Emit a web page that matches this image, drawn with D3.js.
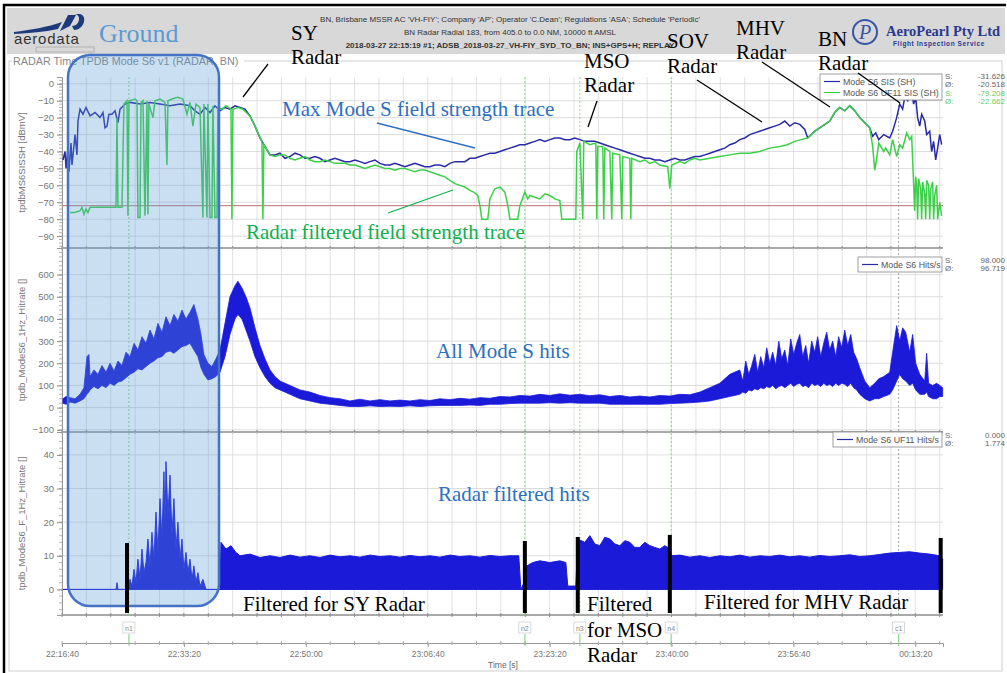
<!DOCTYPE html>
<html>
<head>
<meta charset="utf-8">
<script src="https://cdn.jsdelivr.net/npm/d3@7"></script>
<style>
  body { margin: 0; background: #fff; }
  svg { display: block; font-family: 'Liberation Sans', Arial, sans-serif; }
</style>
</head>
<body>
<div id="app"></div>
<script>
'use strict'

const W = 1007
const H = 673
const startSec = 80200 // 22:16:40, time values below are seconds after this

// top panel, [elapsed s, dBmV]
const sisMax = [[8,-45],[25,-40],[33,-50],[49,-38],[57,-52],[74,-35],[82,-48],[107,-30],[123,-42],[131,-22],[148,-15],[172,-18],[197,-14],[230,-19],[271,-17],[312,-20],[336,-17],[353,-26],[369,-25],[385,-18],[410,-18],[435,-16],[459,-23],[476,-15],[517,-12],[558,-11],[640,-12],[722,-11],[804,-12],[886,-13],[968,-12],[1050,-13],[1091,-16],[1132,-18],[1173,-14],[1214,-17],[1255,-13],[1296,-16],[1337,-14],[1378,-15],[1419,-13],[1460,-14],[1501,-15],[1542,-19],[1583,-25],[1624,-32],[1665,-37],[1706,-42],[1747,-42],[1788,-41],[1829,-44],[1870,-43],[1911,-41],[1952,-42],[1993,-44],[2034,-44],[2075,-43],[2116,-44],[2157,-46],[2198,-45],[2239,-44],[2280,-45],[2321,-46],[2362,-46],[2403,-45],[2444,-46],[2485,-47],[2526,-46],[2567,-45],[2608,-47],[2649,-48],[2690,-48],[2731,-47],[2772,-48],[2813,-49],[2854,-48],[2895,-47],[2936,-48],[2977,-49],[3018,-49],[3059,-48],[3100,-48],[3141,-49],[3182,-47],[3223,-46],[3264,-46],[3305,-46],[3346,-44],[3387,-44],[3428,-43],[3469,-42],[3510,-41],[3551,-41],[3592,-40],[3633,-39],[3674,-38],[3715,-37],[3756,-36],[3797,-36],[3838,-35],[3879,-34],[3920,-33],[3961,-34],[4002,-33],[4043,-32],[4084,-32],[4125,-33],[4166,-33],[4207,-32],[4248,-33],[4289,-34],[4330,-34],[4371,-34],[4412,-35],[4453,-36],[4494,-37],[4535,-38],[4576,-39],[4617,-40],[4658,-41],[4699,-42],[4740,-43],[4781,-44],[4822,-44],[4863,-45],[4904,-45],[4945,-46],[4986,-45],[5027,-44],[5068,-45],[5109,-45],[5150,-44],[5191,-43],[5232,-43],[5273,-42],[5314,-41],[5355,-40],[5396,-39],[5437,-38],[5478,-36],[5519,-35],[5560,-33],[5601,-32],[5642,-30],[5683,-29],[5724,-28],[5765,-27],[5806,-26],[5847,-25],[5888,-24],[5929,-22],[5970,-25],[6011,-23],[6052,-24],[6093,-27],[6117,-32],[6175,-28],[6216,-26],[6298,-22],[6339,-17],[6380,-14],[6421,-16],[6462,-13],[6503,-16],[6544,-20],[6585,-23],[6626,-26],[6650,-31],[6675,-29],[6700,-33],[6741,-30],[6790,-32],[6814,-28],[6847,-20],[6872,-12],[6896,-15],[6913,-8],[6937,-10],[6954,-6],[6970,-5],[6986,-12],[7003,-8],[7019,-20],[7036,-25],[7052,-18],[7077,-22],[7093,-30],[7118,-28],[7134,-40],[7150,-34],[7167,-45],[7183,-38],[7200,-30],[7216,-36]]

const sisUF11 = [[66,-76],[107,-76],[148,-75],[164,-73],[180,-77],[197,-74],[213,-76],[230,-73],[271,-73],[312,-73],[394,-73],[443,-73],[451,-20],[459,-73],[476,-73],[492,-73],[508,-12],[533,-10],[541,-78],[549,-10],[599,-9],[615,-10],[623,-79],[640,-79],[648,-11],[664,-10],[681,-78],[697,-10],[705,-77],[713,-12],[746,-20],[763,-10],[804,-9],[845,-11],[861,-48],[869,-10],[902,-9],[951,-8],[992,-9],[1025,-18],[1050,-11],[1074,-25],[1099,-12],[1132,-14],[1156,-79],[1164,-12],[1189,-79],[1197,-12],[1214,-79],[1230,-79],[1238,-13],[1255,-79],[1271,-79],[1279,-14],[1312,-15],[1345,-13],[1386,-15],[1394,-80],[1402,-15],[1443,-14],[1484,-15],[1542,-19],[1583,-25],[1640,-34],[1648,-80],[1656,-36],[1706,-42],[1747,-43],[1788,-42],[1829,-42],[1870,-44],[1911,-45],[1952,-44],[1993,-43],[2034,-45],[2075,-46],[2116,-46],[2157,-45],[2198,-46],[2239,-47],[2280,-47],[2321,-47],[2362,-48],[2403,-48],[2444,-49],[2485,-50],[2526,-49],[2567,-48],[2608,-49],[2649,-50],[2690,-50],[2731,-51],[2772,-50],[2813,-50],[2854,-51],[2895,-52],[2936,-51],[2977,-51],[3018,-52],[3059,-53],[3100,-54],[3141,-55],[3182,-57],[3223,-59],[3264,-60],[3305,-61],[3346,-63],[3378,-64],[3411,-66],[3428,-72],[3444,-80],[3493,-80],[3510,-68],[3551,-62],[3592,-61],[3633,-64],[3657,-72],[3674,-80],[3739,-80],[3756,-72],[3797,-64],[3821,-68],[3838,-66],[3879,-67],[3920,-68],[3961,-65],[4002,-66],[4043,-68],[4084,-69],[4100,-80],[4215,-80],[4223,-40],[4248,-35],[4272,-80],[4280,-34],[4330,-36],[4379,-35],[4387,-80],[4395,-37],[4436,-37],[4444,-80],[4453,-38],[4494,-40],[4510,-80],[4518,-41],[4576,-42],[4592,-80],[4600,-43],[4658,-44],[4666,-80],[4674,-44],[4740,-46],[4781,-45],[4822,-47],[4863,-46],[4904,-48],[4969,-49],[4986,-62],[5002,-48],[5068,-46],[5109,-47],[5150,-45],[5191,-44],[5232,-45],[5314,-44],[5396,-43],[5478,-42],[5560,-41],[5642,-41],[5724,-40],[5806,-38],[5888,-37],[5950,-36],[6011,-34],[6064,-33],[6117,-32],[6175,-28],[6216,-26],[6298,-22],[6339,-17],[6380,-14],[6421,-16],[6462,-13],[6503,-16],[6544,-20],[6585,-23],[6626,-26],[6650,-37],[6667,-51],[6683,-44],[6700,-35],[6741,-40],[6757,-38],[6790,-42],[6814,-33],[6847,-43],[6872,-36],[6896,-38],[6929,-29],[6954,-33],[6970,-31],[6978,-45],[6995,-75],[7003,-55],[7011,-59],[7019,-80],[7027,-56],[7044,-62],[7052,-80],[7060,-58],[7077,-65],[7085,-80],[7093,-57],[7109,-60],[7118,-80],[7126,-62],[7142,-58],[7150,-80],[7159,-66],[7175,-60],[7183,-80],[7200,-70],[7216,-78]]

// middle panel, [elapsed s, low, high] hits/s
const hitsAll = [[8,20,40],[33,15,50],[66,25,45],[107,20,40],[148,30,60],[180,40,90],[205,60,230],[221,70,240],[230,80,140],[262,95,170],[295,85,150],[328,100,190],[361,90,160],[394,110,200],[427,100,165],[459,115,210],[492,120,190],[525,135,250],[558,150,230],[591,160,290],[623,175,260],[656,170,320],[689,185,290],[722,200,350],[754,210,310],[787,225,380],[820,230,340],[853,250,410],[886,255,370],[918,245,420],[951,260,390],[984,275,440],[1017,280,400],[1050,290,430],[1082,260,465],[1115,230,400],[1140,180,330],[1164,150,240],[1197,125,200],[1230,130,185],[1263,140,220],[1296,160,260],[1337,230,380],[1378,330,500],[1419,400,550],[1443,420,570],[1476,400,540],[1509,350,500],[1542,300,450],[1583,230,360],[1624,180,280],[1665,140,220],[1706,110,170],[1747,90,140],[1788,80,120],[1870,60,100],[1952,40,80],[2034,30,70],[2116,20,55],[2198,15,45],[2280,10,40],[2362,5,30],[2444,5,38],[2526,8,30],[2608,5,36],[2690,6,30],[2772,5,34],[2854,8,30],[2936,5,36],[3018,8,32],[3100,10,40],[3182,10,36],[3264,10,42],[3346,12,38],[3428,10,45],[3510,15,42],[3592,15,50],[3674,18,48],[3756,20,55],[3838,20,52],[3920,20,60],[4002,22,55],[4084,20,62],[4166,22,56],[4248,20,60],[4330,20,54],[4412,20,58],[4494,15,50],[4576,15,55],[4658,15,48],[4740,15,52],[4822,15,48],[4904,15,55],[4986,18,52],[5068,20,60],[5150,22,58],[5232,25,70],[5314,30,90],[5396,40,110],[5478,50,150],[5560,60,170],[5585,70,120],[5609,65,210],[5634,80,150],[5658,75,190],[5683,85,240],[5707,80,160],[5732,90,230],[5757,85,180],[5781,95,270],[5806,90,200],[5830,100,250],[5855,85,190],[5880,95,300],[5904,100,220],[5929,90,260],[5953,100,190],[5978,110,310],[6002,95,240],[6027,105,290],[6052,110,330],[6076,95,230],[6101,100,280],[6125,90,200],[6150,110,300],[6175,100,250],[6199,105,320],[6224,95,230],[6248,110,290],[6273,100,340],[6298,105,260],[6322,95,300],[6347,110,230],[6371,100,320],[6396,110,270],[6421,105,350],[6445,95,280],[6470,110,330],[6494,90,250],[6519,80,220],[6544,60,180],[6585,40,120],[6626,30,90],[6667,40,110],[6700,40,130],[6741,50,140],[6790,60,160],[6814,80,250],[6847,120,370],[6872,150,300],[6896,130,360],[6921,120,340],[6954,100,250],[6978,110,330],[7003,80,200],[7036,60,150],[7077,60,120],[7093,70,245],[7109,50,110],[7142,40,100],[7175,40,110],[7200,50,100],[7224,50,90]]

// bottom panel, [elapsed s, hits/s] (filtered, floor 0)
const hitsUF11 = [[8,0],[443,0],[451,2],[459,0],[533,0],[558,3],[574,1],[591,6],[607,2],[623,9],[640,3],[656,12],[672,5],[689,8],[705,15],[722,7],[738,17],[754,9],[771,23],[787,11],[804,27],[820,15],[836,35],[845,20],[853,38],[869,22],[886,34],[902,16],[918,27],[935,12],[951,20],[968,9],[984,15],[1000,6],[1017,11],[1033,5],[1050,9],[1066,3],[1082,7],[1099,2],[1115,5],[1132,1],[1156,3],[1181,0],[1296,0],[1304,14],[1345,12],[1386,13],[1427,11],[1460,10],[1542,10.5],[1624,9.5],[1706,10],[1788,9.5],[1870,10.2],[1952,9.6],[2034,10],[2116,9.5],[2198,10.2],[2280,9.7],[2362,10],[2444,9.6],[2526,10.2],[2608,9.8],[2690,10],[2772,9.6],[2854,10.1],[2936,9.7],[3018,10],[3100,9.6],[3182,10.2],[3264,9.8],[3346,10],[3428,9.6],[3510,10.1],[3592,9.8],[3674,10],[3747,10],[3764,0],[3789,2],[3813,7],[3862,8],[3920,8.5],[4002,8],[4084,8.5],[4133,8],[4149,1],[4215,1],[4231,15],[4289,14],[4330,16],[4371,13.5],[4412,13],[4453,15.5],[4494,15],[4535,13.5],[4576,13],[4617,14.5],[4658,14],[4699,12.5],[4740,12.5],[4781,14],[4822,13],[4863,12.5],[4904,12],[4945,13],[4969,12.5],[4986,10],[5068,10.2],[5150,9.6],[5232,10],[5314,9.5],[5396,10],[5478,9.7],[5560,10.2],[5642,9.6],[5724,10],[5806,9.8],[5888,10.2],[5970,9.7],[6052,10],[6134,9.6],[6216,10.1],[6298,9.8],[6380,10],[6462,10.3],[6544,9.8],[6626,10],[6708,10.4],[6790,10.8],[6872,11],[6954,11.2],[7036,10.8],[7118,10.5],[7200,10],[7224,9]]

const markerNames = ['n1', 'n2', 'n3', 'n4', 'c1']
const markerTimes = [549, 3797, 4248, 4997, 6863]
const filterBarTimes = [533, 3797, 4231, 4986, 7208]
const filterBarTops = [13.8, 14.4, 15.6, 16.2, 15.3]
const thresholdDb = -72

const headerLines = [
  "BN, Brisbane MSSR AC 'VH-FIY'; Company 'AP'; Operator 'C.Dean'; Regulations 'ASA'; Schedule 'Periodic'",
  'BN Radar Radial 183, from 405.0 to 0.0 NM, 10000 ft AMSL',
  '2018-03-27 22:15:19  #1; ADSB_2018-03-27_VH-FIY_SYD_TO_BN; INS+GPS+H; REPLAY'
]

const blueTrace = '#2a2aa6'
const blueHits = '#1a1ad8'
const greenTrace = '#3ecf4a'

const svg = d3.select('#app').append('svg')
  .attr('width', W)
  .attr('height', H)

svg.append('rect').attr('width', W).attr('height', H).attr('fill', '#fff')

// header band
svg.append('rect')
  .attr('x', 7).attr('y', 8).attr('width', 998).attr('height', 46)
  .attr('fill', '#d8d8d8')

svg.append('path')
  .attr('d', `M4,${H} V5 H${W - 1}`)
  .attr('fill', 'none')
  .attr('stroke', '#000')
  .attr('stroke-width', 2.5)

headerLines.forEach((t, i) => {
  svg.append('text')
    .attr('x', 510).attr('y', 22 + i * 13)
    .attr('text-anchor', 'middle')
    .style('font-size', '8px')
    .style('font-weight', i === 2 ? 'bold' : 'normal')
    .style('fill', '#333')
    .text(t)
})

// aerodata logo
svg.append('path')
  .attr('d', 'M14,32 C30,30 48,27 62,22 L58,29 C44,32 30,33 14,34 Z')
  .attr('fill', '#1d3a7a')
svg.append('path')
  .attr('d', 'M60,31 L68,15 L76,15 L70,26 Z M72,26 C80,26 82,14 74,14 L80,14 C88,16 84,30 74,30 Z')
  .attr('fill', '#1d3a7a')
svg.append('text')
  .attr('x', 14).attr('y', 44)
  .style('font-size', '15px').style('fill', '#333').style('letter-spacing', '0.8px')
  .text('aerodata')
svg.append('rect')
  .attr('x', 36).attr('y', 47).attr('width', 58).attr('height', 5)
  .attr('fill', 'none').attr('stroke', '#999').attr('stroke-width', 0.6)

// AeroPearl logo
svg.append('circle')
  .attr('cx', 865).attr('cy', 32).attr('r', 12)
  .attr('fill', 'none').attr('stroke', '#3a55a8').attr('stroke-width', 2)
svg.append('text')
  .attr('x', 865).attr('y', 39).attr('text-anchor', 'middle')
  .style('font-family', "'Liberation Serif', serif").style('font-style', 'italic')
  .style('font-size', '20px').style('fill', '#3a55a8')
  .text('P')
svg.append('text')
  .attr('x', 886).attr('y', 36)
  .style('font-family', "'Liberation Serif', serif").style('font-weight', 'bold')
  .style('font-size', '14.5px').style('fill', '#2b3990')
  .text('AeroPearl Pty Ltd')
svg.append('text')
  .attr('x', 893).attr('y', 46)
  .style('font-weight', 'bold').style('font-size', '6.5px').style('fill', '#2b3990')
  .style('letter-spacing', '0.6px')
  .text('Flight Inspection Service')

// group box
svg.append('rect')
  .attr('x', 9).attr('y', 61).attr('width', 993).attr('height', 610)
  .attr('fill', 'none').attr('stroke', '#cfcfcf')
svg.append('rect')
  .attr('x', 12).attr('y', 55).attr('width', 232).attr('height', 12).attr('fill', '#fff')
svg.append('text')
  .attr('x', 13).attr('y', 65)
  .style('font-size', '10.8px').style('fill', '#888')
  .text('RADAR Time TPDB Mode S6 v1 (RADAR, BN)')

// scales
const x = d3.scaleLinear().domain([0, 7227]).range([62, 943])
const yTop = d3.scaleLinear().domain([-97, 4]).range([248, 77])
const yMid = d3.scaleLinear().domain([-110, 720]).range([432, 248])
const yBot = d3.scaleLinear().domain([-7.6, 46.8]).range([615, 432])

const panels = [
  { y: yTop, major: d3.range(-90, 1, 10), minor: d3.range(-96, 4, 2), label: 'tpdbMS6SISSH [dBmV]' },
  { y: yMid, major: d3.range(-100, 601, 100), minor: d3.range(-100, 720, 20), label: 'tpdb_ModeS6_1Hz_Hitrate []' },
  { y: yBot, major: d3.range(0, 41, 10), minor: d3.range(-6, 46, 2), label: 'tpdb_ModeS6_F_1Hz_Hitrate []' }
]

const gridTimes = d3.range(0, 7227, 200)
const majorTimes = d3.range(0, 7227, 1000)

panels.forEach(p => {
  const [y1, y0] = p.y.range()
  const g = svg.append('g')
  // vertical grid
  g.selectAll('.vg').data(gridTimes).enter().append('line')
    .attr('x1', d => x(d)).attr('x2', d => x(d))
    .attr('y1', y0).attr('y2', y1)
    .attr('stroke', '#dadada').attr('stroke-width', 0.8)
  // horizontal grid
  g.selectAll('.hg').data(p.major).enter().append('line')
    .attr('x1', 62).attr('x2', 943)
    .attr('y1', d => p.y(d)).attr('y2', d => p.y(d))
    .attr('stroke', '#d4d4d4').attr('stroke-width', 0.8)
  // separator with small ticks
  g.append('line').attr('x1', 62).attr('x2', 943).attr('y1', y1).attr('y2', y1)
    .attr('stroke', '#8c8c8c').attr('stroke-width', 1.3)
  g.selectAll('.st').data(gridTimes).enter().append('line')
    .attr('x1', d => x(d)).attr('x2', d => x(d))
    .attr('y1', y1 - 2).attr('y2', y1 + 2)
    .attr('stroke', '#8c8c8c')
  // y axis
  const ax = d3.axisLeft(p.y).tickValues(p.major).tickSize(5).tickPadding(3)
  const axG = svg.append('g').attr('transform', 'translate(62,0)').call(ax)
  axG.select('.domain').attr('stroke', '#999')
  axG.selectAll('.tick line').attr('stroke', '#888')
  axG.selectAll('.tick text').style('font-size', '9.5px').style('fill', '#777')
    .style('font-family', "'Liberation Sans', Arial, sans-serif")
  axG.selectAll('.mn').data(p.minor).enter().append('line')
    .attr('x1', -3).attr('x2', 0)
    .attr('y1', d => p.y(d)).attr('y2', d => p.y(d))
    .attr('stroke', '#999').attr('stroke-width', 0.7)
  svg.append('text')
    .attr('transform', `translate(25,${(y0 + y1) / 2}) rotate(-90)`)
    .attr('text-anchor', 'middle')
    .style('font-size', '9.5px').style('fill', '#777')
    .text(p.label)
})

// threshold line
svg.append('line')
  .attr('x1', 62).attr('x2', 943)
  .attr('y1', yTop(thresholdDb)).attr('y2', yTop(thresholdDb))
  .attr('stroke', '#c98a8a').attr('stroke-width', 1.2)

// marker lines
markerTimes.forEach((t, i) => {
  svg.append('line')
    .attr('x1', x(t)).attr('x2', x(t)).attr('y1', 77).attr('y2', 615)
    .attr('stroke', i === 4 ? '#9aa89a' : '#8fd88f').attr('stroke-width', 1)
    .attr('stroke-dasharray', '2,2')
  svg.append('line')
    .attr('x1', x(t)).attr('x2', x(t)).attr('y1', 634).attr('y2', 646)
    .attr('stroke', '#8fd88f').attr('stroke-width', 1.2)
  svg.append('rect')
    .attr('x', x(t) - 6).attr('y', 622).attr('width', 12).attr('height', 11)
    .attr('fill', '#fff').attr('stroke', '#c8c8c8').attr('stroke-width', 0.7)
  svg.append('text')
    .attr('x', x(t)).attr('y', 630.5).attr('text-anchor', 'middle')
    .style('font-size', '7px').style('fill', '#888')
    .text(markerNames[i])
})

// top traces
const clipTop = svg.append('clipPath').attr('id', 'clipTop')
clipTop.append('rect').attr('x', 62).attr('y', 77).attr('width', 881).attr('height', 171)

const lineTop = d3.line().x(d => x(d[0])).y(d => yTop(d[1]))
svg.append('path').datum(sisMax)
  .attr('d', lineTop).attr('clip-path', 'url(#clipTop)')
  .attr('fill', 'none').attr('stroke', blueTrace).attr('stroke-width', 1.5)
svg.append('path').datum(sisUF11)
  .attr('d', lineTop).attr('clip-path', 'url(#clipTop)')
  .attr('fill', 'none').attr('stroke', greenTrace).attr('stroke-width', 1.5)

// middle hits band
const areaMid = d3.area().x(d => x(d[0])).y0(d => yMid(d[1])).y1(d => yMid(d[2]))
svg.append('path').datum(hitsAll)
  .attr('d', areaMid)
  .attr('fill', blueHits).attr('stroke', blueHits).attr('stroke-width', 0.8)

// bottom filtered hits
const areaBot = d3.area().x(d => x(d[0])).y0(yBot(0)).y1(d => yBot(d[1]))
svg.append('path').datum(hitsUF11)
  .attr('d', areaBot)
  .attr('fill', blueHits).attr('stroke', blueHits).attr('stroke-width', 1)

// x axis
const xAxis = d3.axisBottom(x).tickValues(majorTimes).tickSize(4).tickPadding(4)
  .tickFormat(d => {
    const s = (startSec + d) % 86400
    const pad = v => String(v).padStart(2, '0')
    return `${pad(Math.floor(s / 3600))}:${pad(Math.floor(s / 60) % 60)}:${pad(s % 60)}`
  })
const xG = svg.append('g').attr('transform', 'translate(0,643)').call(xAxis)
xG.select('.domain').attr('stroke', '#999')
xG.selectAll('.tick line').attr('stroke', '#999')
xG.selectAll('.tick text').style('font-size', '8.5px').style('fill', '#777')
  .style('font-family', "'Liberation Sans', Arial, sans-serif")
xG.selectAll('.xm').data(gridTimes).enter().append('line')
  .attr('x1', d => x(d)).attr('x2', d => x(d)).attr('y1', -2).attr('y2', 2)
  .attr('stroke', '#aaa')
svg.append('text')
  .attr('x', 503).attr('y', 668).attr('text-anchor', 'middle')
  .style('font-size', '8.5px').style('fill', '#666')
  .text('Time [s]')

// legends
function legend(x0, y0, w, rows) {
  svg.append('rect')
    .attr('x', x0).attr('y', y0).attr('width', w).attr('height', rows.length * 11 + 4)
    .attr('fill', '#fff').attr('stroke', '#888').attr('stroke-width', 0.8)
  rows.forEach((r, i) => {
    const cy = y0 + 7.5 + i * 11
    svg.append('line')
      .attr('x1', x0 + 4).attr('x2', x0 + 20).attr('y1', cy).attr('y2', cy)
      .attr('stroke', r.color).attr('stroke-width', 1.2)
    svg.append('text')
      .attr('x', x0 + 23).attr('y', cy + 3)
      .style('font-size', '8.8px').style('fill', '#555')
      .text(r.name)
  })
}
function stats(y0, rows) {
  rows.forEach((r, i) => {
    svg.append('text').attr('x', 945).attr('y', y0 + i * 8.3)
      .style('font-size', '8px').style('fill', r.color).text(r.k)
    svg.append('text').attr('x', 1005).attr('y', y0 + i * 8.3).attr('text-anchor', 'end')
      .style('font-size', '8px').style('fill', r.color).text(r.v)
  })
}

legend(820, 74, 122, [
  { name: 'Mode S6 SIS (SH)', color: blueTrace },
  { name: 'Mode S6 UF11 SIS (SH)', color: greenTrace }
])
stats(79, [
  { k: 'S:', v: '-31.626', color: '#666' },
  { k: 'Ø:', v: '-20.518', color: '#666' },
  { k: 'S:', v: '-79.208', color: '#6c6' },
  { k: 'Ø:', v: '-22.662', color: '#6c6' }
])
legend(858, 257, 84, [{ name: 'Mode S6 Hits/s', color: blueTrace }])
stats(263, [
  { k: 'S:', v: '98.000', color: '#666' },
  { k: 'Ø:', v: '96.719', color: '#666' }
])
legend(833, 432, 109, [{ name: 'Mode S6 UF11 Hits/s', color: blueTrace }])
stats(438, [
  { k: 'S:', v: '0.000', color: '#666' },
  { k: 'Ø:', v: '1.774', color: '#666' }
])

// ground highlight
svg.append('rect')
  .attr('x', 68).attr('y', 55).attr('width', 151).attr('height', 551)
  .attr('rx', 22).attr('ry', 22)
  .attr('fill', '#5b9bd5').attr('fill-opacity', 0.32)
  .attr('stroke', '#4472c4').attr('stroke-width', 2.5)

// filter bars
filterBarTimes.forEach((t, i) => {
  svg.append('line')
    .attr('x1', x(t)).attr('x2', x(t))
    .attr('y1', yBot(filterBarTops[i])).attr('y2', 613)
    .attr('stroke', '#000').attr('stroke-width', 4)
})

// annotations
const serif = "'Liberation Serif', 'Times New Roman', serif"
function note(txt, tx, ty, color, size) {
  svg.append('text').attr('x', tx).attr('y', ty)
    .style('font-family', serif).style('font-size', (size || 21) + 'px')
    .style('fill', color || '#000')
    .text(txt)
}
function callout(x1, y1, x2, y2, color) {
  svg.append('line').attr('x1', x1).attr('y1', y1).attr('x2', x2).attr('y2', y2)
    .attr('stroke', color || '#000').attr('stroke-width', 1.3)
}

note('Ground', 99, 42, '#5b9bd5', 26)
note('SY', 291, 40); note('Radar', 291, 64)
note('MSO', 584, 68); note('Radar', 584, 92)
note('SOV', 667, 48); note('Radar', 667, 73)
note('MHV', 736, 35); note('Radar', 736, 59)
note('BN', 818, 46); note('Radar', 818, 70)
callout(268, 64, 243, 97)
callout(597, 101, 588, 127)
callout(697, 80, 762, 122)
callout(762, 62, 830, 107)
callout(858, 73, 900, 103)

note('Max Mode S field strength trace', 282, 116, '#2e6fc0')
callout(377, 123, 475, 148, '#2e6fc0')
note('Radar filtered field strength trace', 246, 239, '#10b050')
callout(388, 213, 453, 190, '#10b050')
note('All Mode S hits', 436, 358, '#2e6fc0')
note('Radar filtered hits', 438, 501, '#2e6fc0')

note('Filtered for SY Radar', 243, 611)
note('Filtered', 587, 611)
note('for MSO', 587, 637)
note('Radar', 587, 662)
note('Filtered for MHV Radar', 704, 609)
</script>
</body>
</html>
